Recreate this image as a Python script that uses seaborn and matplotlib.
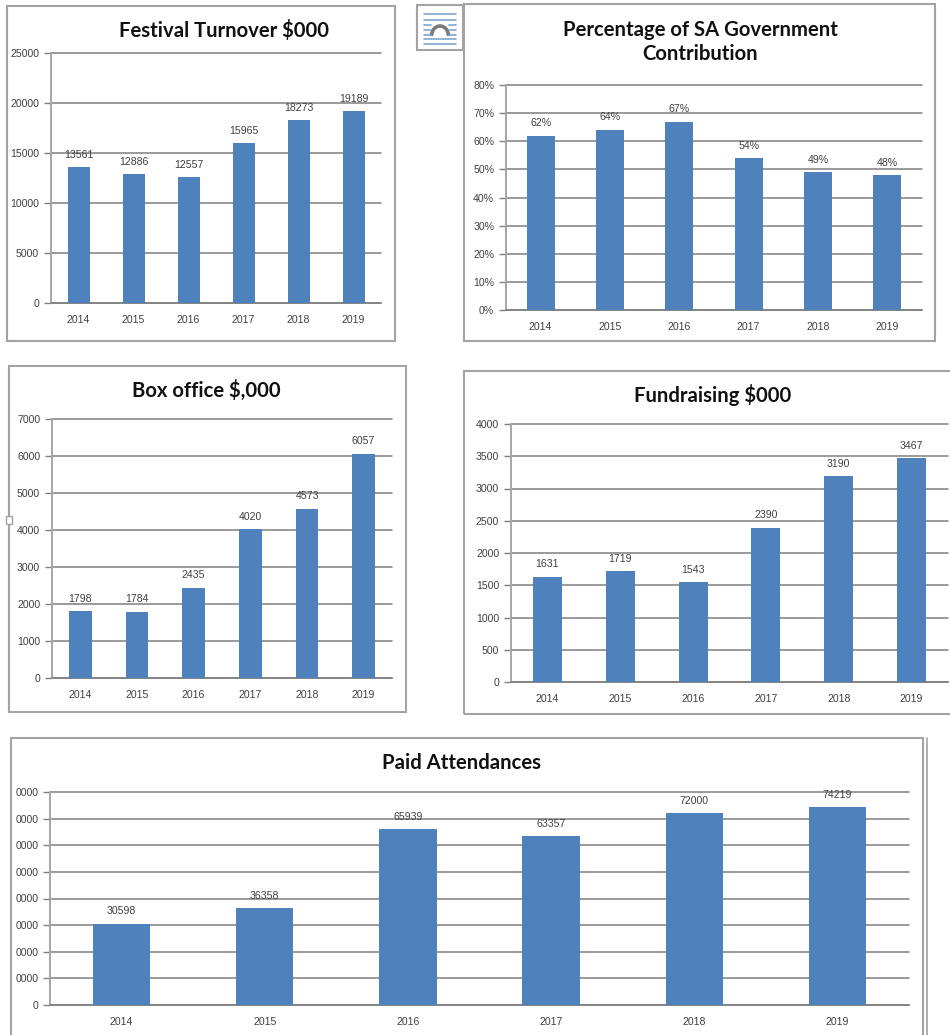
import matplotlib
matplotlib.use('Agg')
import matplotlib.pyplot as plt
import seaborn as sns
from matplotlib.lines import Line2D
from matplotlib.patches import Rectangle, Arc

W, H = 950, 1035

years = ['2014', '2015', '2016', '2017', '2018', '2019']

turnover = [13561, 12886, 12557, 15965, 18273, 19189]
turnover_ticks = [0, 5000, 10000, 15000, 20000, 25000]
turnover_ticklabels = ['0', '5000', '10000', '15000', '20000', '25000']

govt = [62, 64, 67, 54, 49, 48]
govt_labels = ['62%', '64%', '67%', '54%', '49%', '48%']
govt_ticks = [0, 10, 20, 30, 40, 50, 60, 70, 80]
govt_ticklabels = ['0%', '10%', '20%', '30%', '40%', '50%', '60%', '70%', '80%']

box_office = [1798, 1784, 2435, 4020, 4573, 6057]
box_ticks = [0, 1000, 2000, 3000, 4000, 5000, 6000, 7000]
box_ticklabels = ['0', '1000', '2000', '3000', '4000', '5000', '6000', '7000']

fundraising = [1631, 1719, 1543, 2390, 3190, 3467]
fund_ticks = [0, 500, 1000, 1500, 2000, 2500, 3000, 3500, 4000]
fund_ticklabels = ['0', '500', '1000', '1500', '2000', '2500', '3000', '3500', '4000']

paid = [30598, 36358, 65939, 63357, 72000, 74219]
paid_ticks = [0, 10000, 20000, 30000, 40000, 50000, 60000, 70000, 80000]
# left digit is cut off in the screenshot
paid_ticklabels = ['0', '0000', '0000', '0000', '0000', '0000', '0000', '0000', '0000']

sns.set_style('white')
plt.rcParams['font.family'] = ['Liberation Sans', 'DejaVu Sans']

BLUE = '#4f81bd'
GRID = '#7f7f7f'
AXIS = '#a6a6a6'
FRAME = '#a3a3a3'
TICK_TEXT = '#404040'
SMALL = 7.6

fig = plt.figure(figsize=(W / 100, H / 100), dpi=100, facecolor='white')


def fx(x):
    return x / W


def fy(y):
    return 1 - y / H


def frame(left, top, right, bottom):
    fig.add_artist(Rectangle((fx(left), fy(bottom)), (right - left) / W, (bottom - top) / H,
                             transform=fig.transFigure, fill=False, edgecolor=FRAME, linewidth=1.5))


def panel(box, plot, title, title_xy, values, ticks, ticklabels, labels=None):
    frame(*box)
    left, top, right, bottom = plot
    ax = fig.add_axes([fx(left), fy(bottom), (right - left) / W, (bottom - top) / H])
    ax.set_facecolor('none')
    sns.barplot(x=years, y=values, color=BLUE, saturation=1, width=0.4, linewidth=0, ax=ax, zorder=3)
    ax.set_xlim(-0.5, 5.5)
    ax.set_ylim(ticks[0], ticks[-1])
    ax.set_yticks(ticks)
    ax.set_yticklabels(ticklabels)
    ax.yaxis.grid(True, color=GRID, linewidth=1.1, zorder=1)
    for line in ax.get_ygridlines():
        line.set_clip_on(False)
    ax.xaxis.grid(False)
    ax.set_axisbelow(True)
    ax.set_xticks(range(6))
    ax.set_xticklabels(years)
    ax.set_xticks([i - 0.5 for i in range(7)], minor=True)
    ax.tick_params(axis='x', which='major', length=0, labelsize=SMALL, labelcolor=TICK_TEXT, pad=8.5)
    ax.tick_params(axis='x', which='minor', length=3, width=1, color=GRID)
    ax.tick_params(axis='y', length=5, width=1, color=GRID, labelsize=SMALL, labelcolor=TICK_TEXT, pad=3.5, left=True)
    sns.despine(ax=ax, top=True, right=True)
    ax.spines['left'].set_color(AXIS)
    ax.spines['left'].set_linewidth(1.4)
    ax.spines['bottom'].set_color(GRID)
    ax.spines['bottom'].set_linewidth(1.1)
    if labels is None:
        labels = [str(v) for v in values]
    for i, v in enumerate(values):
        ax.annotate(labels[i], (i, v), xytext=(0, 9), textcoords='offset points', ha='center', va='center',
                    fontsize=SMALL, color=TICK_TEXT, zorder=5)
    fig.text(fx(title_xy[0]), fy(title_xy[1]), title, ha='center', va='center', fontsize=14.6,
             fontweight='bold', family=['Lato', 'DejaVu Sans'], color='#111111', linespacing=1.3)
    return ax


panel((7, 6, 395, 341), (51, 53, 381, 303), 'Festival Turnover $000', (224, 31),
      turnover, turnover_ticks, turnover_ticklabels)
panel((464, 4, 935, 341), (506, 85, 922, 310), 'Percentage of SA Government\nContribution', (700, 42),
      govt, govt_ticks, govt_ticklabels, labels=govt_labels)
panel((9, 366, 406, 712), (52, 419, 392, 678), 'Box office $,000', (206, 390),
      box_office, box_ticks, box_ticklabels)
panel((464, 371, 955, 714), (511, 424, 948, 682), 'Fundraising $000', (713, 395),
      fundraising, fund_ticks, fund_ticklabels)
panel((11, 738, 923, 1040), (50, 792, 909, 1005), 'Paid Attendances', (461, 763),
      paid, paid_ticks, paid_ticklabels)

# second edge on the right of the bottom chart
fig.add_artist(Line2D([fx(927), fx(927)], [fy(738), fy(1035)], color=FRAME, linewidth=1.2,
                      transform=fig.transFigure))

# layout options icon beside the top right chart
frame(417, 5, 463, 50)
for y in [14, 20, 25, 30, 35, 39, 44]:
    short = y in (25, 30, 35)
    if short:
        for x0, x1 in [(424, 431), (449, 456)]:
            fig.add_artist(Line2D([fx(x0), fx(x1)], [fy(y), fy(y)], color='#7fa6d1', linewidth=1.2,
                                  transform=fig.transFigure))
    else:
        fig.add_artist(Line2D([fx(424), fx(456)], [fy(y), fy(y)], color='#7fa6d1', linewidth=1.2,
                              transform=fig.transFigure))
icon = fig.add_axes([fx(428), fy(36), 24 / W, 14 / H])
icon.axis('off')
icon.set_xlim(0, 24)
icon.set_ylim(0, 14)
icon.add_patch(Arc((12, 0), 17, 20, theta1=0, theta2=180, color='#7a7a7a', linewidth=2.6))

# small handle on the box office frame
fig.add_artist(Rectangle((fx(6), fy(524)), 6 / W, 8 / H, transform=fig.transFigure,
                         facecolor='white', edgecolor=FRAME, linewidth=1))

fig.savefig('out.png', dpi=100)
